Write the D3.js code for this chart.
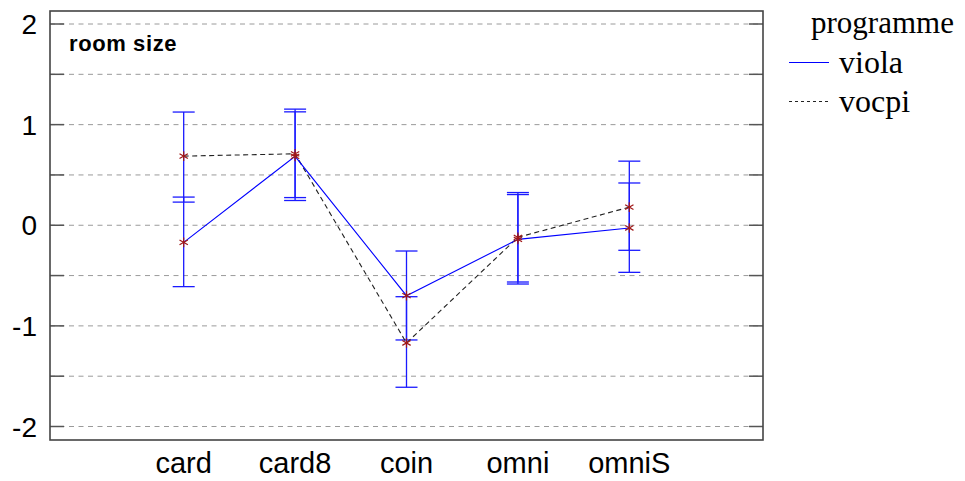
<!DOCTYPE html>
<html><head><meta charset="utf-8">
<script src="https://cdn.jsdelivr.net/npm/d3@7"></script>
<style>body{margin:0;background:#fff}svg{display:block}</style>
</head><body>
<svg id="c" width="965" height="481"></svg>
<script>
const categories = ["card","card8","coin","omni","omniS"];
const violaMean  = [-0.17, 0.685, -0.70, -0.14, -0.027];
const violaUpper = [0.28, 1.127, -0.256, 0.305, 0.42];
const violaLower = [-0.61, 0.246, -1.14, -0.584, -0.468];
const vocpiMean  = [0.687, 0.71, -1.17, -0.12, 0.18];
const vocpiUpper = [1.125, 1.154, -0.71, 0.325, 0.637];
const vocpiLower = [0.23, 0.275, -1.61, -0.564, -0.249];
const yTicks = [-2,-1.5,-1,-0.5,0,0.5,1,1.5,2];
const yLabels = [-2,-1,0,1,2];
const seriesNames = ["viola","vocpi"];
const legendTitle = "programme";
const panelTitle = "room size";

const svg = d3.select("#c");
const L = 50, R = 763, T = 11, B = 440;
const x = d3.scalePoint().domain(categories).range([L, R]).padding(1.2);
const y = d3.scaleLinear().domain([-2, 2]).range([426.5, 24]);

// grid
svg.append("g").selectAll("line").data(yTicks).join("line")
  .attr("x1", L).attr("x2", R).attr("y1", d => y(d)).attr("y2", d => y(d))
  .attr("stroke", "#9a9a9a").attr("stroke-width", 1).attr("stroke-dasharray", "5,4.5");
// ticks left and right
const tk = svg.append("g").attr("stroke", "#555").attr("stroke-width", 1.5);
tk.selectAll(".l").data(yTicks).join("line").attr("x1", L).attr("x2", L + 14)
  .attr("y1", d => y(d)).attr("y2", d => y(d));
tk.selectAll(".r").data(yTicks).join("line").attr("x1", R - 14).attr("x2", R)
  .attr("y1", d => y(d)).attr("y2", d => y(d));
// frame
svg.append("rect").attr("x", L).attr("y", T).attr("width", R - L).attr("height", B - T)
  .attr("fill", "none").attr("stroke", "#444").attr("stroke-width", 1.6);

// y labels
svg.append("g").selectAll("text").data(yLabels).join("text")
  .attr("x", 37).attr("y", d => y(d)).attr("dy", "0.36em").attr("text-anchor", "end")
  .attr("font-family", "Liberation Sans, Arial, sans-serif").attr("font-size", 28).attr("fill", "#000")
  .text(d => String(d).replace("\u2212", "-"));
// x labels
svg.append("g").selectAll("text").data(categories).join("text")
  .attr("x", d => x(d)).attr("y", 473).attr("text-anchor", "middle")
  .attr("font-family", "Liberation Sans, Arial, sans-serif").attr("font-size", 29).attr("fill", "#000")
  .text(d => d);

// panel title
svg.append("text").attr("x", 69).attr("y", 51)
  .attr("font-family", "Liberation Sans, Arial, sans-serif").attr("font-weight", "bold")
  .attr("font-size", 22).attr("letter-spacing", 0.6).attr("fill", "#000").text(panelTitle);

const series = [
  {mean: violaMean, up: violaUpper, lo: violaLower, color: "#0000ff", dash: null},
  {mean: vocpiMean, up: vocpiUpper, lo: vocpiLower, color: "#222", dash: "5,3.5"}
];

// error bars (blue for both)
series.forEach(s => {
  const g = svg.append("g").attr("stroke", "#1a1aff").attr("stroke-width", 1.3);
  categories.forEach((c, i) => {
    g.append("line").attr("x1", x(c)).attr("x2", x(c)).attr("y1", y(s.up[i])).attr("y2", y(s.lo[i]));
    g.append("line").attr("x1", x(c) - 11).attr("x2", x(c) + 11).attr("y1", y(s.up[i])).attr("y2", y(s.up[i]));
    g.append("line").attr("x1", x(c) - 11).attr("x2", x(c) + 11).attr("y1", y(s.lo[i])).attr("y2", y(s.lo[i]));
  });
});

// lines
const line = d3.line().x((d, i) => x(categories[i])).y(d => y(d));
series.slice().reverse().forEach(s => {
  svg.append("path").datum(s.mean).attr("d", line).attr("fill", "none")
    .attr("stroke", s.color).attr("stroke-width", 1.1)
    .attr("stroke-dasharray", s.dash);
});

// markers
const sym = d3.symbol().type(d3.symbolAsterisk).size(65);
series.forEach(s => {
  svg.append("g").selectAll("path").data(s.mean).join("path")
    .attr("transform", (d, i) => `translate(${x(categories[i])},${y(d)})`)
    .attr("d", sym).attr("fill", "none").attr("stroke", "#a01818").attr("stroke-width", 1.2);
});

// legend
const lg = svg.append("g").attr("font-family", "Liberation Serif, Times New Roman, serif").attr("fill", "#000");
lg.append("text").attr("x", 811).attr("y", 33).attr("font-size", 31).text(legendTitle);
seriesNames.forEach((n, i) => {
  const yy = i === 0 ? 62.5 : 101.5;
  lg.append("line").attr("x1", 789).attr("x2", 829).attr("y1", yy).attr("y2", yy)
    .attr("stroke", series[i].color).attr("stroke-width", 1)
    .attr("stroke-dasharray", i === 0 ? null : "3,3");
  lg.append("text").attr("x", 839).attr("y", yy + 10).attr("font-size", 32).text(n);
});
</script>
</body></html>
